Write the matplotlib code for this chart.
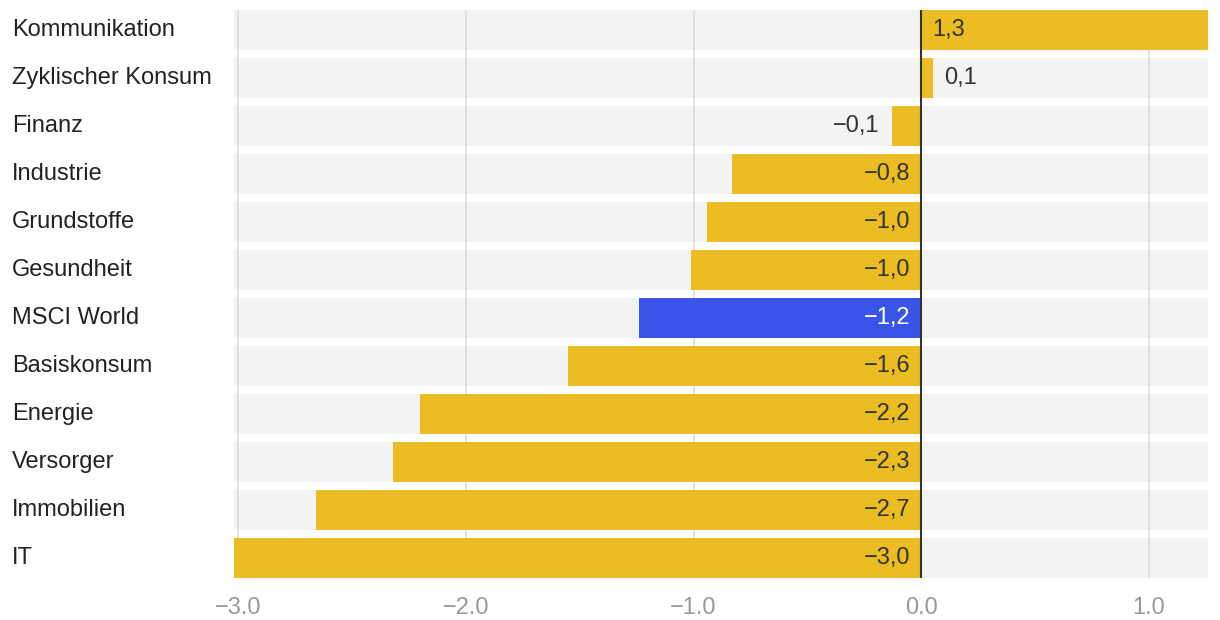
import matplotlib.pyplot as plt
import numpy as np

plt.rcParams['font.family'] = ['Liberation Sans', 'DejaVu Sans']

sectors = ['Kommunikation', 'Zyklischer Konsum', 'Finanz', 'Industrie', 'Grundstoffe',
           'Gesundheit', 'MSCI World', 'Basiskonsum', 'Energie', 'Versorger',
           'Immobilien', 'IT']
values = [1.30, 0.05, -0.13, -0.83, -0.94, -1.01, -1.24, -1.55, -2.20, -2.32, -2.66, -3.04]
labels = ['1,3', '0,1', '\u22120,1', '\u22120,8', '\u22121,0', '\u22121,0', '\u22121,2',
          '\u22121,6', '\u22122,2', '\u22122,3', '\u22122,7', '\u22123,0']
highlight = 'MSCI World'

xmin, xmax = -3.018, 1.259
yellow = '#ebbd22'
blue = '#3a54e8'
fs = 17

fig = plt.figure(figsize=(12.2, 6.2), dpi=100)
ax = fig.add_axes([234/1220, 1 - 578/620, (1208-234)/1220, 568/620])

y = np.arange(len(sectors))
h = 40/48

# grey background bands
ax.barh(y, xmax - xmin, left=xmin, height=h, color='#f3f3f3', zorder=0)

# grid lines
for t in [-3, -2, -1, 1]:
    ax.axvline(t, color='#dddddd', lw=1.2, zorder=1)

cols = [blue if s == highlight else yellow for s in sectors]
ax.barh(y, values, height=h, color=cols, zorder=2)
ax.axvline(0, color='#333333', lw=1.5, zorder=3)

for i, (v, lab, s) in enumerate(zip(values, labels, sectors)):
    tc = 'white' if s == highlight else '#333333'
    if abs(v) > 0.3:
        if v < 0:
            ax.annotate(lab, (0, i), xytext=(-8, 0), textcoords='offset points',
                        ha='right', va='center', fontsize=fs, color=tc, zorder=4)
        else:
            ax.annotate(lab, (0, i), xytext=(8, 0), textcoords='offset points',
                        ha='left', va='center', fontsize=fs, color=tc, zorder=4)
    else:
        if v < 0:
            ax.annotate(lab, (v, i), xytext=(-9, 0), textcoords='offset points',
                        ha='right', va='center', fontsize=fs, color='#333333', zorder=4)
        else:
            ax.annotate(lab, (v, i), xytext=(8, 0), textcoords='offset points',
                        ha='left', va='center', fontsize=fs, color='#333333', zorder=4)

ax.set_xlim(xmin, xmax)
ax.set_ylim(len(sectors) - 1 + h/2, -h/2)
ax.set_yticks([])
for i, s in enumerate(sectors):
    ax.text(12/1220, ax.transData.transform((0, i))[1] / 620, s, transform=fig.transFigure,
            ha='left', va='center', fontsize=fs, color='#222222')

ax.set_xticks([-3, -2, -1, 0, 1])
ax.set_xticklabels(['\u22123.0', '\u22122.0', '\u22121.0', '0.0', '1.0'])
ax.tick_params(axis='x', length=0, pad=14, labelsize=fs, labelcolor='#999999')
for sp in ax.spines.values():
    sp.set_visible(False)

plt.savefig('out.png', dpi=100)
